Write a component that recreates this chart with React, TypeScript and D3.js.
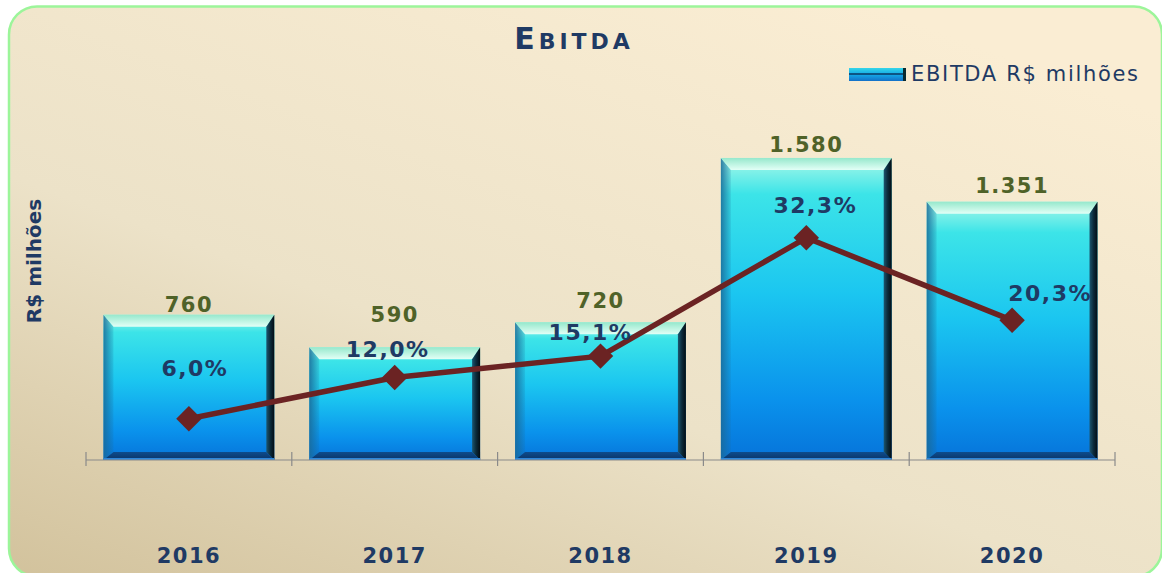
import React from "react";
import * as d3 from "d3";

const years = ["2016", "2017", "2018", "2019", "2020"];
const ebitda = [760, 590, 720, 1580, 1351];
const ebitdaLabels = ["760", "590", "720", "1.580", "1.351"];
const margin = [6.0, 12.0, 15.1, 32.3, 20.3];
const marginLabels = ["6,0%", "12,0%", "15,1%", "32,3%", "20,3%"];

// label placement (layout only)
const valueLabelGap = [10, 32, 21, 13, 16];
const pctLabelOffset: [number, number][] = [
  [6, -50],
  [-7, -28],
  [-10, -24],
  [9, -32],
  [38, -27],
];

const W = 1162;
const H = 573;
const baseY = 460;
const NAVY = "#1F3A64";
const OLIVE = "#4F6228";
const LINE = "#6B2323";
const FONT = "'DejaVu Sans', Verdana, sans-serif";

export default function App() {
  const x = d3
    .scaleBand<string>()
    .domain(years)
    .range([86, 1115])
    .paddingInner(0.17)
    .paddingOuter(0.085);
  const y = d3.scaleLinear().domain([0, 2000]).range([baseY, baseY - 382.4]);
  const yPct = d3.scaleLinear().domain([0, 50]).range([baseY, baseY - 344]);

  const step = x.step();
  const axisStart = 86;
  const tickXs = d3.range(years.length + 1).map((i) => axisStart + i * step);

  const cx = (yr: string) => (x(yr) as number) + x.bandwidth() / 2;
  const linePts: [number, number][] = years.map((yr, i) => [cx(yr), yPct(margin[i])]);
  const lineGen = d3.line();

  const bw = x.bandwidth();
  const bev = { t: 12, l: 10, r: 8, b: 8 };

  return (
    <svg
      width={W}
      height={H}
      style={{ position: "absolute", left: 0, top: 0 }}
      xmlns="http://www.w3.org/2000/svg"
    >
      <defs>
        <linearGradient id="bg" x1="0" y1="1" x2="0.75" y2="0">
          <stop offset="0" stopColor="#D2C29C" />
          <stop offset="0.45" stopColor="#ECE2C8" />
          <stop offset="1" stopColor="#FAEDD3" />
        </linearGradient>
        <linearGradient id="face" x1="0" y1="0" x2="0" y2="1">
          <stop offset="0" stopColor="#A8F8E8" />
          <stop offset="0.12" stopColor="#3CE4E8" />
          <stop offset="0.45" stopColor="#1BC6F0" />
          <stop offset="0.8" stopColor="#0A92EC" />
          <stop offset="1" stopColor="#0674DA" />
        </linearGradient>
        <linearGradient id="bevTop" x1="0" y1="0" x2="0" y2="1">
          <stop offset="0" stopColor="#96E8CC" />
          <stop offset="1" stopColor="#E2FFF6" />
        </linearGradient>
        <linearGradient id="bevLeft" x1="0" y1="0" x2="1" y2="0">
          <stop offset="0" stopColor="#1A6A98" stopOpacity={0.85} />
          <stop offset="1" stopColor="#1A6A98" stopOpacity={0.15} />
        </linearGradient>
        <linearGradient id="bevRight" x1="0" y1="0" x2="1" y2="0">
          <stop offset="0" stopColor="#1C5670" />
          <stop offset="0.5" stopColor="#0B2A3A" />
          <stop offset="1" stopColor="#020C14" />
        </linearGradient>
        <linearGradient id="bevBottom" x1="0" y1="0" x2="0" y2="1">
          <stop offset="0" stopColor="#0E4C8C" />
          <stop offset="1" stopColor="#0A3468" />
        </linearGradient>
        <linearGradient id="legSw" x1="0" y1="0" x2="0" y2="1">
          <stop offset="0" stopColor="#35D6E8" />
          <stop offset="0.5" stopColor="#13A8E8" />
          <stop offset="1" stopColor="#1470C8" />
        </linearGradient>
      </defs>

      <rect
        x={9}
        y={6.5}
        width={1153}
        height={570}
        rx={28}
        ry={28}
        fill="url(#bg)"
        stroke="#9CF59A"
        strokeWidth={2.5}
      />

      {/* Title */}
      <text
        x={574}
        y={49}
        textAnchor="middle"
        fontFamily={FONT}
        fontWeight="bold"
        fill={NAVY}
        letterSpacing={4}
      >
        <tspan fontSize={30}>E</tspan>
        <tspan fontSize={22}>BITDA</tspan>
      </text>

      {/* Legend */}
      <g>
        <rect x={849} y={68} width={57} height={13} fill="url(#legSw)" />
        <rect x={849} y={73} width={57} height={2} fill="#0B3E6A" opacity={0.8} />
        <rect x={903} y={68} width={3} height={13} fill="#0A2A30" />
        <text
          x={911}
          y={81}
          fontFamily={FONT}
          fontSize={21}
          fill={NAVY}
          textLength={227}
          lengthAdjust="spacing"
        >
          EBITDA R$ milhões
        </text>
      </g>

      {/* Y axis title */}
      <text
        transform={`translate(41,261) rotate(-90)`}
        textAnchor="middle"
        fontFamily={FONT}
        fontWeight="bold"
        fontSize={20}
        fill={NAVY}
      >
        R$ milhões
      </text>

      {/* Bars */}
      {years.map((yr, i) => {
        const x0 = x(yr) as number;
        const x1 = x0 + bw;
        const y0 = y(ebitda[i]);
        const y1 = baseY;
        return (
          <g key={yr}>
            <rect x={x0} y={y0} width={bw} height={y1 - y0} fill="url(#face)" />
            <polygon
              points={`${x0},${y0} ${x0 + bev.l},${y0 + bev.t} ${x0 + bev.l},${y1 - bev.b} ${x0},${y1}`}
              fill="url(#bevLeft)"
            />
            <polygon
              points={`${x0},${y0} ${x1},${y0} ${x1 - bev.r},${y0 + bev.t} ${x0 + bev.l},${y0 + bev.t}`}
              fill="url(#bevTop)"
            />
            <polygon
              points={`${x1},${y0} ${x1},${y1} ${x1 - bev.r},${y1 - bev.b} ${x1 - bev.r},${y0 + bev.t}`}
              fill="url(#bevRight)"
            />
            <polygon
              points={`${x0},${y1} ${x0 + bev.l},${y1 - bev.b} ${x1 - bev.r},${y1 - bev.b} ${x1},${y1}`}
              fill="url(#bevBottom)"
            />
            <rect x={x0} y={y1 - 2} width={bw} height={2} fill="#2C86DA" />
          </g>
        );
      })}

      {/* Axis */}
      <line x1={tickXs[0]} x2={tickXs[tickXs.length - 1]} y1={baseY} y2={baseY} stroke="#8A8A8A" strokeWidth={1.2} />
      {tickXs.map((tx, i) => (
        <line key={i} x1={tx} x2={tx} y1={baseY - 8} y2={baseY + 6} stroke="#8A8A8A" strokeWidth={1.2} />
      ))}

      {/* Category labels */}
      {years.map((yr) => (
        <text
          key={yr}
          x={cx(yr)}
          y={563}
          textAnchor="middle"
          fontFamily={FONT}
          fontWeight="bold"
          fontSize={21}
          letterSpacing={1.5}
          fill={NAVY}
        >
          {yr}
        </text>
      ))}

      {/* Value labels */}
      {years.map((yr, i) => (
        <text
          key={yr}
          x={cx(yr)}
          y={y(ebitda[i]) - valueLabelGap[i]}
          textAnchor="middle"
          dominantBaseline="central"
          fontFamily={FONT}
          fontWeight="bold"
          fontSize={21}
          letterSpacing={1.5}
          fill={OLIVE}
        >
          {ebitdaLabels[i]}
        </text>
      ))}

      {/* Line */}
      <path d={lineGen(linePts) || ""} fill="none" stroke={LINE} strokeWidth={5.5} strokeLinejoin="round" />
      {linePts.map(([px, py], i) => (
        <rect
          key={i}
          x={px - 9}
          y={py - 9}
          width={18}
          height={18}
          transform={`rotate(45 ${px} ${py})`}
          fill={LINE}
        />
      ))}

      {/* Percent labels */}
      {linePts.map(([px, py], i) => (
        <text
          key={i}
          x={px + pctLabelOffset[i][0]}
          y={py + pctLabelOffset[i][1]}
          textAnchor="middle"
          dominantBaseline="central"
          fontFamily={FONT}
          fontWeight="bold"
          fontSize={22}
          letterSpacing={1.5}
          fill={NAVY}
        >
          {marginLabels[i]}
        </text>
      ))}
    </svg>
  );
}
